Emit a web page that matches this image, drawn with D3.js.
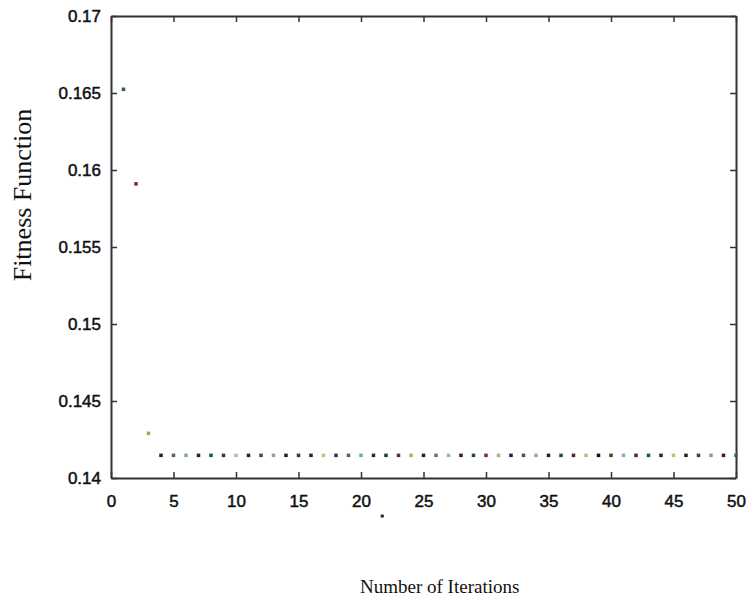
<!DOCTYPE html>
<html>
<head>
<meta charset="utf-8">
<script src="https://cdnjs.cloudflare.com/ajax/libs/d3/7.8.5/d3.min.js"></script>
<style>
	body { margin: 0; background: #fff; }
	.axis text { font-family: "Liberation Sans", Arial, sans-serif; font-size: 17px; fill: #111; stroke: #111; stroke-width: 0.5px; }
	.axis path, .axis line { stroke: #333; }
	.lbl { font-family: "Liberation Serif", "Times New Roman", serif; fill: #111; }
</style>
</head>
<body>
<svg id="chart" width="746" height="597"></svg>
<script>
	// iterations and fitness values
	var iterations = d3.range(1, 51)
	var fitness = [0.16524, 0.1591, 0.1429].concat(d3.range(4, 51).map(function () { return 0.14147 }))
	// each point has its own colour (MATLAB scatter style)
	var colors = [
		"#2a5a6a", "#7a2a2a", "#b0a060",
		"#222228", "#556655", "#7aaab0", "#222228", "#1a5560", "#443333", "#bbbb99", "#222244", "#335533", "#9999aa",
		"#331818", "#224444", "#332222", "#ccbb88", "#333344", "#556644", "#66aabb", "#442222", "#1a3a4a", "#443838",
		"#bbaa55", "#222222", "#667766", "#88bbcc", "#222228", "#1a4a55", "#773322", "#bbaa88", "#222230", "#555533",
		"#88aabb", "#222222", "#1a4a55", "#442a2a", "#bbbb88", "#111122", "#444433", "#88aabb", "#552233", "#1a5560",
		"#332222", "#ccbb66", "#222233", "#444422", "#8899aa", "#441a22", "#2a6a77"
	]
	// one stray point that lies below the axis near iteration 22
	var strayX = [21.7]
	var strayY = [0.13753]

	var xTicks = d3.range(0, 51, 5)
	var yTicks = [0.14, 0.145, 0.15, 0.155, 0.16, 0.165, 0.17]

	var svg = d3.select("#chart"),
		margin = { top: 16, right: 10, bottom: 119, left: 111 },
		width = 746 - margin.left - margin.right,
		height = 597 - margin.top - margin.bottom;

	var x = d3.scaleLinear().domain([0, 50]).range([0, width]);
	var y = d3.scaleLinear().domain([0.14, 0.17]).range([height, 0]);

	var g = svg.append("g")
		.attr("transform", "translate(" + margin.left + "," + margin.top + ")");

	g.append("g")
		.attr("class", "x axis")
		.attr("transform", "translate(0," + height + ")")
		.call(d3.axisBottom(x).tickValues(xTicks).tickSizeInner(-6).tickSizeOuter(0).tickPadding(17));

	g.append("g")
		.attr("class", "y axis")
		.call(d3.axisLeft(y).tickValues(yTicks).tickSizeInner(-6).tickSizeOuter(0).tickPadding(10)
			.tickFormat(function (d) { return String(+d.toFixed(3)) }));

	g.append("g")
		.attr("class", "axis")
		.call(d3.axisTop(x).tickValues(xTicks).tickSizeInner(-6).tickSizeOuter(0).tickFormat(""));

	g.append("g")
		.attr("class", "axis")
		.attr("transform", "translate(" + width + ",0)")
		.call(d3.axisRight(y).tickValues(yTicks).tickSizeInner(-6).tickSizeOuter(0).tickFormat(""));

	g.selectAll(".axis path").attr("stroke-width", 2)
	g.selectAll(".axis line").attr("stroke-width", 1.5)

	var pts = iterations.map(function (d, i) {
		return { x: d, y: fitness[i], c: colors[i] }
	})

	g.selectAll(".pt")
		.data(pts)
		.enter()
		.append("rect")
		.attr("class", "pt")
		.attr("x", function (d) { return x(d.x) - 1.75 })
		.attr("y", function (d) { return y(d.y) - 1.75 })
		.attr("width", 3.5)
		.attr("height", 3.5)
		.style("fill", function (d) { return d.c });

	g.selectAll(".stray")
		.data(strayX)
		.enter()
		.append("rect")
		.attr("class", "stray")
		.attr("x", function (d) { return x(d) - 1.5 })
		.attr("y", function (d, i) { return y(strayY[i]) - 1.5 })
		.attr("width", 3)
		.attr("height", 3)
		.style("fill", "#222");

	svg.append("text")
		.attr("class", "lbl")
		.attr("transform", "translate(31,195) rotate(-90)")
		.attr("text-anchor", "middle")
		.style("font-size", "26px")
		.text("Fitness Function");

	svg.append("text")
		.attr("class", "lbl")
		.attr("x", 360)
		.attr("y", 593)
		.style("font-size", "19px")
		.text("Number of Iterations");
</script>
</body>
</html>
